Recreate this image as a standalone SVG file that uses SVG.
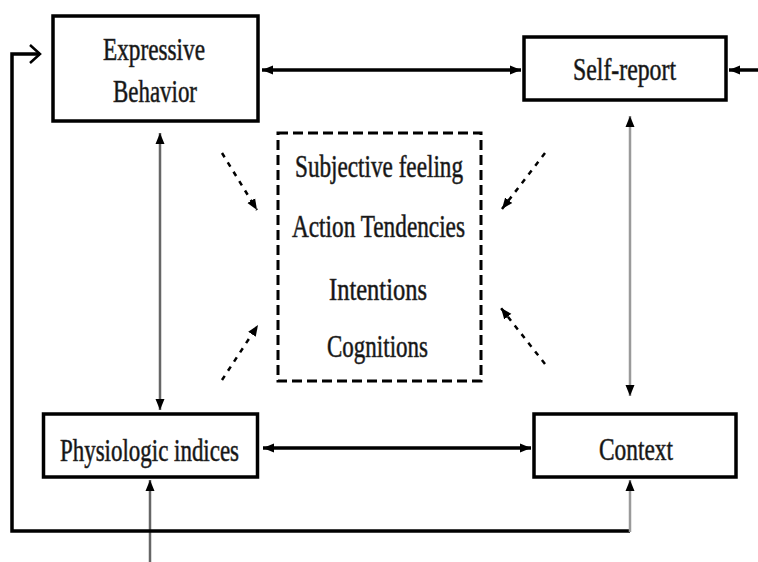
<svg xmlns="http://www.w3.org/2000/svg" width="758" height="562" viewBox="0 0 758 562">
<style>
.box{fill:#fff;stroke:#000;stroke-width:3.5}
.lbl{font-family:"Liberation Serif","Times New Roman",serif;font-size:32px;fill:#111;stroke:#333;stroke-width:0.6;text-anchor:middle}
.solid{fill:none;stroke:#000;stroke-width:3.5}
.grey{fill:none;stroke:#666;stroke-width:2.5}
.lgrey{fill:none;stroke:#9a9a9a;stroke-width:2.5}
.dash{fill:none;stroke:#000;stroke-width:2.5;stroke-dasharray:5 6}
</style>
<defs>
<marker id="ah" markerUnits="userSpaceOnUse" markerWidth="12" markerHeight="12" viewBox="0 0 12 12" refX="11" refY="6" orient="auto-start-reverse">
<path d="M0,1.5 L11,6 L0,10.5 Z" fill="#000"/>
</marker>
<marker id="chev" markerUnits="userSpaceOnUse" markerWidth="14" markerHeight="22" viewBox="0 0 14 22" refX="12" refY="11" orient="auto">
<path d="M2,2 L12,11 L2,20" fill="none" stroke="#000" stroke-width="2.5"/>
</marker>
</defs>
<g id="connectors">
<line class="solid" x1="262" y1="70" x2="521" y2="70" marker-start="url(#ah)" marker-end="url(#ah)"/>
<line class="solid" x1="758" y1="70" x2="729" y2="70" marker-end="url(#ah)"/>
<line class="grey" x1="160" y1="133" x2="160" y2="410" marker-start="url(#ah)" marker-end="url(#ah)"/>
<line class="lgrey" x1="630" y1="116" x2="630" y2="396" marker-start="url(#ah)" marker-end="url(#ah)"/>
<line class="solid" x1="263" y1="448" x2="531" y2="448" marker-start="url(#ah)" marker-end="url(#ah)"/>
<line class="grey" x1="150" y1="562" x2="150" y2="480" marker-end="url(#ah)"/>
<path class="solid" d="M630,531 H12 V54 H40" marker-end="url(#chev)"/>
<line class="lgrey" x1="630" y1="532" x2="630" y2="480" marker-end="url(#ah)"/>
<line class="dash" x1="222" y1="153" x2="257" y2="210" marker-end="url(#ah)"/>
<line class="dash" x1="545" y1="153" x2="502" y2="209" marker-end="url(#ah)"/>
<line class="dash" x1="222" y1="380" x2="258" y2="325" marker-end="url(#ah)"/>
<line class="dash" x1="545" y1="364" x2="501" y2="308" marker-end="url(#ah)"/>
</g>
<g id="expressive-behavior">
<rect class="box" x="53" y="16" width="205" height="105"/>
<text class="lbl" x="154" y="60" textLength="102" lengthAdjust="spacingAndGlyphs">Expressive</text>
<text class="lbl" x="155" y="102" textLength="84" lengthAdjust="spacingAndGlyphs">Behavior</text>
</g>
<g id="self-report">
<rect class="box" x="524" y="37" width="202" height="63"/>
<text class="lbl" x="624.5" y="80" textLength="103" lengthAdjust="spacingAndGlyphs">Self-report</text>
</g>
<g id="physiologic-indices">
<rect class="box" x="43.5" y="414" width="214" height="63"/>
<text class="lbl" x="149.5" y="461" textLength="179" lengthAdjust="spacingAndGlyphs">Physiologic indices</text>
</g>
<g id="context">
<rect class="box" x="534" y="414" width="202" height="63"/>
<text class="lbl" x="636" y="460" textLength="74" lengthAdjust="spacingAndGlyphs">Context</text>
</g>
<g id="inner-states">
<rect x="278" y="133" width="203" height="248" fill="#fff" stroke="#000" stroke-width="3" stroke-dasharray="10 5"/>
<text class="lbl" x="379" y="177" textLength="168" lengthAdjust="spacingAndGlyphs">Subjective feeling</text>
<text class="lbl" x="378.5" y="237" textLength="173" lengthAdjust="spacingAndGlyphs">Action Tendencies</text>
<text class="lbl" x="378" y="300" textLength="98" lengthAdjust="spacingAndGlyphs">Intentions</text>
<text class="lbl" x="377.5" y="357" textLength="101" lengthAdjust="spacingAndGlyphs">Cognitions</text>
</g>
</svg>
